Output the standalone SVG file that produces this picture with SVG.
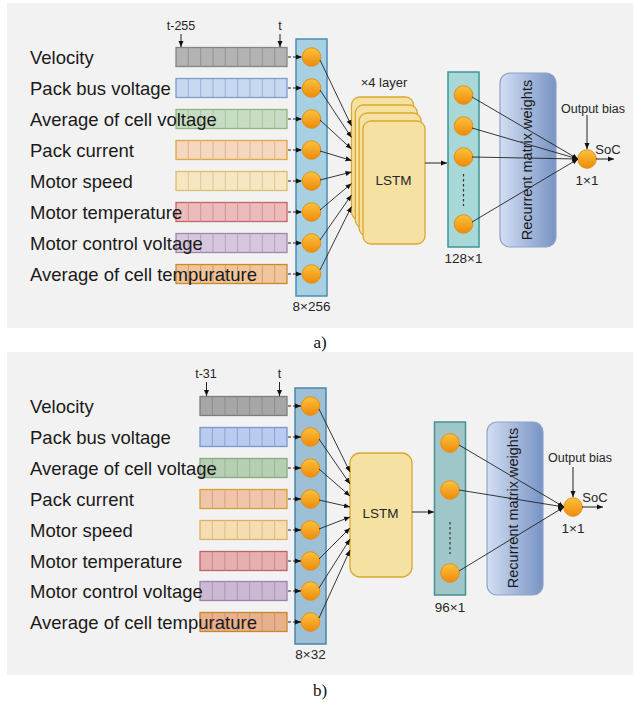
<svg xmlns="http://www.w3.org/2000/svg" width="634" height="705" viewBox="0 0 634 705">
<defs>
<style>
.lbl{font-family:"Liberation Sans",Arial,sans-serif;font-size:18.5px;fill:#1a1a1a}
.sm{font-family:"Liberation Sans",Arial,sans-serif;font-size:12.5px;fill:#262626}
.md{font-family:"Liberation Sans",Arial,sans-serif;font-size:13.5px;fill:#262626}
.cap{font-family:"Liberation Serif","Times New Roman",serif;font-size:17px;fill:#111}
.cell{stroke-width:1.3}
.div{stroke-width:0.9;fill:none}
.node{fill:url(#og);stroke:#e39215;stroke-width:1}
.ln{stroke:#222;stroke-width:0.9;fill:none;marker-end:url(#ah)}
.dl{stroke:#222;stroke-width:1;fill:none;stroke-dasharray:3 2;marker-end:url(#ah)}
.ar{stroke:#222;stroke-width:1;fill:none;marker-end:url(#ah)}
.lstm{fill:#f5e2a2;stroke:#d9a82e;stroke-width:1.3}
.rec{fill:url(#rg);stroke:#8ea3c9;stroke-width:1.2}
</style>
<linearGradient id="og" x1="0" y1="0" x2="0" y2="1">
<stop offset="0" stop-color="#fbc23e"/>
<stop offset="1" stop-color="#ef8a0a"/>
</linearGradient>
<linearGradient id="rg" x1="0" y1="0" x2="1" y2="0">
<stop offset="0" stop-color="#d3def3"/>
<stop offset="1" stop-color="#7894c4"/>
</linearGradient>
<marker id="ah" markerWidth="6" markerHeight="6" refX="6" refY="3" orient="auto" markerUnits="userSpaceOnUse">
<path d="M0,0.5 L6,3 L0,5.5 z" fill="#111"/>
</marker>
</defs>

<rect x="0" y="0" width="634" height="705" fill="#ffffff"/>
<rect x="7" y="3" width="626" height="325" fill="#f2f2f2"/>
<rect x="7" y="352" width="626" height="323" fill="#f2f2f2"/>

<!-- ================= PANEL A ================= -->
<g id="a-inputs">
<g id="a-in-velocity">
<rect class="cell" x="176" y="47.5" width="111" height="19" fill="#b3b3b3" stroke="#858585"/>
<path class="div" stroke="#8f8f8f" d="M188.3,47.5v19M200.7,47.5v19M213,47.5v19M225.3,47.5v19M237.7,47.5v19M250,47.5v19M262.3,47.5v19M274.7,47.5v19"/>
<text class="lbl" x="30" y="63.5">Velocity</text>
</g>
<g id="a-in-packbus">
<rect class="cell" x="176" y="78.5" width="111" height="19" fill="#c9d8f1" stroke="#7f9ccb"/>
<path class="div" stroke="#93acd6" d="M188.3,78.5v19M200.7,78.5v19M213,78.5v19M225.3,78.5v19M237.7,78.5v19M250,78.5v19M262.3,78.5v19M274.7,78.5v19"/>
<text class="lbl" x="30" y="94.5">Pack bus voltage</text>
</g>
<g id="a-in-avgcellv">
<rect class="cell" x="176" y="109.5" width="111" height="19" fill="#c7dcc3" stroke="#8bb680"/>
<path class="div" stroke="#9fc196" d="M188.3,109.5v19M200.7,109.5v19M213,109.5v19M225.3,109.5v19M237.7,109.5v19M250,109.5v19M262.3,109.5v19M274.7,109.5v19"/>
<text class="lbl" x="30" y="125.5">Average of cell voltage</text>
</g>
<g id="a-in-packcur">
<rect class="cell" x="176" y="140.5" width="111" height="19" fill="#f4d7be" stroke="#dba844"/>
<path class="div" stroke="#d9b08c" d="M188.3,140.5v19M200.7,140.5v19M213,140.5v19M225.3,140.5v19M237.7,140.5v19M250,140.5v19M262.3,140.5v19M274.7,140.5v19"/>
<text class="lbl" x="30" y="156.5">Pack current</text>
</g>
<g id="a-in-motorspeed">
<rect class="cell" x="176" y="171.5" width="111" height="19" fill="#f6e7c2" stroke="#dcbe6e"/>
<path class="div" stroke="#d8c48e" d="M188.3,171.5v19M200.7,171.5v19M213,171.5v19M225.3,171.5v19M237.7,171.5v19M250,171.5v19M262.3,171.5v19M274.7,171.5v19"/>
<text class="lbl" x="30" y="187.5">Motor speed</text>
</g>
<g id="a-in-motortemp">
<rect class="cell" x="176" y="202.5" width="111" height="19" fill="#ecbcbd" stroke="#c46466"/>
<path class="div" stroke="#cf8f90" d="M188.3,202.5v19M200.7,202.5v19M213,202.5v19M225.3,202.5v19M237.7,202.5v19M250,202.5v19M262.3,202.5v19M274.7,202.5v19"/>
<text class="lbl" x="30" y="218.5">Motor temperature</text>
</g>
<g id="a-in-motorctrl">
<rect class="cell" x="176" y="233.5" width="111" height="19" fill="#d6c7dd" stroke="#9d86ae"/>
<path class="div" stroke="#ae9cbc" d="M188.3,233.5v19M200.7,233.5v19M213,233.5v19M225.3,233.5v19M237.7,233.5v19M250,233.5v19M262.3,233.5v19M274.7,233.5v19"/>
<text class="lbl" x="30" y="249.5">Motor control voltage</text>
</g>
<g id="a-in-avgcellt">
<rect class="cell" x="176" y="264.5" width="111" height="19" fill="#f0c59b" stroke="#c9882c"/>
<path class="div" stroke="#cf9a68" d="M188.3,264.5v19M200.7,264.5v19M213,264.5v19M225.3,264.5v19M237.7,264.5v19M250,264.5v19M262.3,264.5v19M274.7,264.5v19"/>
<text class="lbl" x="30" y="280.5">Average of cell tempurature</text>
</g>
</g>

<g id="a-time">
<text class="sm" x="181" y="30" text-anchor="middle">t-255</text>
<text class="sm" x="280" y="30" text-anchor="middle">t</text>
</g>

<g id="a-inlayer">
<rect x="296" y="39" width="31" height="257" fill="#a8d0e3" stroke="#4b8db3" stroke-width="1.5"/>
<circle class="node" cx="311.5" cy="57" r="9.3"/>
<circle class="node" cx="311.5" cy="88" r="9.3"/>
<circle class="node" cx="311.5" cy="119" r="9.3"/>
<circle class="node" cx="311.5" cy="150" r="9.3"/>
<circle class="node" cx="311.5" cy="181" r="9.3"/>
<circle class="node" cx="311.5" cy="212" r="9.3"/>
<circle class="node" cx="311.5" cy="243" r="9.3"/>
<circle class="node" cx="311.5" cy="274" r="9.3"/>
<text class="md" x="311.5" y="311" text-anchor="middle">8×256</text>
</g>

<g id="a-lstm">
<rect class="lstm" x="351.5" y="97" width="62" height="123" rx="8"/>
<rect class="lstm" x="355.3" y="105" width="62" height="123" rx="8"/>
<rect class="lstm" x="359.1" y="113" width="62" height="123" rx="8"/>
<rect class="lstm" x="363" y="121" width="62" height="123" rx="8"/>
<text class="md" x="393.5" y="185" text-anchor="middle">LSTM</text>
<text class="md" x="384" y="87" text-anchor="middle" style="font-size:13px">×4 layer</text>
</g>

<g id="a-hidden">
<rect x="448" y="72" width="31" height="175" fill="#a8d8d8" stroke="#3c9696" stroke-width="1.5"/>
<circle class="node" cx="463.5" cy="95" r="9.3"/>
<circle class="node" cx="463.5" cy="126" r="9.3"/>
<circle class="node" cx="463.5" cy="157" r="9.3"/>
<circle class="node" cx="463.5" cy="224" r="9.3"/>
<path d="M463.5,174V206" stroke="#333" stroke-width="1.2" stroke-dasharray="2.5 2.5"/>
<text class="md" x="463.5" y="263" text-anchor="middle">128×1</text>
</g>

<g id="a-recurrent">
<rect class="rec" x="500" y="73" width="56" height="174" rx="10"/>
<text class="md" transform="translate(532,160) rotate(-90)" text-anchor="middle" style="font-size:14.5px;fill:#1a1a1a">Recurrent matrix weights</text>
</g>

<g id="a-output">
<circle class="node" cx="587" cy="159" r="9.3"/>
<text class="sm" x="593" y="113" text-anchor="middle">Output bias</text>
<text class="md" x="608" y="154" text-anchor="middle" style="font-size:13px">SoC</text>
<text class="md" x="587" y="185" text-anchor="middle">1×1</text>
</g>

<g id="a-connectors">
<path class="ar" d="M181,34V47"/>
<path class="ar" d="M280,34V47"/>
<path class="dl" d="M288,57H302"/>
<path class="dl" d="M288,88H302"/>
<path class="dl" d="M288,119H302"/>
<path class="dl" d="M288,150H302"/>
<path class="dl" d="M288,181H302"/>
<path class="dl" d="M288,212H302"/>
<path class="dl" d="M288,243H302"/>
<path class="dl" d="M288,274H302"/>
<path class="ln" d="M320,60L351.5,126"/>
<path class="ln" d="M320,90L351.5,137.5"/>
<path class="ln" d="M320,120L351.5,149"/>
<path class="ln" d="M320,151L351.5,160.5"/>
<path class="ln" d="M320,180L351.5,172"/>
<path class="ln" d="M320,210L351.5,183.5"/>
<path class="ln" d="M320,240L351.5,195"/>
<path class="ln" d="M320,270L351.5,206.5"/>
<path class="ar" d="M425,163H447"/>
<path class="ln" d="M472,97L578,159"/>
<path class="ln" d="M472,128L578,159"/>
<path class="ln" d="M472,157L578,159"/>
<path class="ln" d="M472,222L578,159"/>
<path class="ar" d="M587,115V149"/>
<path class="ar" d="M596,159H614"/>
</g>

<text class="cap" x="320" y="348" text-anchor="middle">a)</text>

<!-- ================= PANEL B ================= -->
<g id="b-inputs">
<g id="b-in-velocity">
<rect class="cell" x="200" y="396.5" width="87" height="19" fill="#a6a6a6" stroke="#7d7d7d"/>
<path class="div" stroke="#8a8a8a" d="M212.4,396.5v19M224.9,396.5v19M237.3,396.5v19M249.7,396.5v19M262.1,396.5v19M274.6,396.5v19"/>
<text class="lbl" x="30" y="412.5">Velocity</text>
</g>
<g id="b-in-packbus">
<rect class="cell" x="200" y="427.5" width="87" height="19" fill="#b9cbee" stroke="#7a96c8"/>
<path class="div" stroke="#889fcc" d="M212.4,427.5v19M224.9,427.5v19M237.3,427.5v19M249.7,427.5v19M262.1,427.5v19M274.6,427.5v19"/>
<text class="lbl" x="30" y="443.5">Pack bus voltage</text>
</g>
<g id="b-in-avgcellv">
<rect class="cell" x="200" y="458.5" width="87" height="19" fill="#b6cfb4" stroke="#83ad7b"/>
<path class="div" stroke="#95b68e" d="M212.4,458.5v19M224.9,458.5v19M237.3,458.5v19M249.7,458.5v19M262.1,458.5v19M274.6,458.5v19"/>
<text class="lbl" x="30" y="474.5">Average of cell voltage</text>
</g>
<g id="b-in-packcur">
<rect class="cell" x="200" y="489.5" width="87" height="19" fill="#f1c5a9" stroke="#d3a232"/>
<path class="div" stroke="#d49c7e" d="M212.4,489.5v19M224.9,489.5v19M237.3,489.5v19M249.7,489.5v19M262.1,489.5v19M274.6,489.5v19"/>
<text class="lbl" x="30" y="505.5">Pack current</text>
</g>
<g id="b-in-motorspeed">
<rect class="cell" x="200" y="520.5" width="87" height="19" fill="#f5ddb1" stroke="#d9b26a"/>
<path class="div" stroke="#d6b887" d="M212.4,520.5v19M224.9,520.5v19M237.3,520.5v19M249.7,520.5v19M262.1,520.5v19M274.6,520.5v19"/>
<text class="lbl" x="30" y="536.5">Motor speed</text>
</g>
<g id="b-in-motortemp">
<rect class="cell" x="200" y="551.5" width="87" height="19" fill="#e6b0b1" stroke="#bf6466"/>
<path class="div" stroke="#c88688" d="M212.4,551.5v19M224.9,551.5v19M237.3,551.5v19M249.7,551.5v19M262.1,551.5v19M274.6,551.5v19"/>
<text class="lbl" x="30" y="567.5">Motor temperature</text>
</g>
<g id="b-in-motorctrl">
<rect class="cell" x="200" y="581.5" width="87" height="19" fill="#cbb9d3" stroke="#9a84a9"/>
<path class="div" stroke="#a692b4" d="M212.4,581.5v19M224.9,581.5v19M237.3,581.5v19M249.7,581.5v19M262.1,581.5v19M274.6,581.5v19"/>
<text class="lbl" x="30" y="597.5">Motor control voltage</text>
</g>
<g id="b-in-avgcellt">
<rect class="cell" x="200" y="612.5" width="87" height="19" fill="#e8b08d" stroke="#c5882c"/>
<path class="div" stroke="#c9906a" d="M212.4,612.5v19M224.9,612.5v19M237.3,612.5v19M249.7,612.5v19M262.1,612.5v19M274.6,612.5v19"/>
<text class="lbl" x="30" y="628.5">Average of cell tempurature</text>
</g>
</g>

<g id="b-time">
<text class="sm" x="206" y="378" text-anchor="middle">t-31</text>
<text class="sm" x="279.5" y="378" text-anchor="middle">t</text>
</g>

<g id="b-inlayer">
<rect x="295" y="388" width="31" height="256" fill="#9dc0d6" stroke="#4986a8" stroke-width="1.5"/>
<circle class="node" cx="310.5" cy="406" r="9.3"/>
<circle class="node" cx="310.5" cy="437" r="9.3"/>
<circle class="node" cx="310.5" cy="468" r="9.3"/>
<circle class="node" cx="310.5" cy="499" r="9.3"/>
<circle class="node" cx="310.5" cy="530" r="9.3"/>
<circle class="node" cx="310.5" cy="561" r="9.3"/>
<circle class="node" cx="310.5" cy="591" r="9.3"/>
<circle class="node" cx="310.5" cy="622" r="9.3"/>
<text class="md" x="310.5" y="659" text-anchor="middle">8×32</text>
</g>

<g id="b-lstm">
<rect class="lstm" x="350" y="453" width="62" height="124" rx="10"/>
<text class="md" x="380.5" y="518" text-anchor="middle">LSTM</text>
</g>

<g id="b-hidden">
<rect x="434.5" y="422" width="31" height="173" fill="#9fc7c9" stroke="#4a8e90" stroke-width="1.5"/>
<circle class="node" cx="450" cy="443" r="9.3"/>
<circle class="node" cx="450" cy="490" r="9.3"/>
<circle class="node" cx="450" cy="573" r="9.3"/>
<path d="M450,522V554" stroke="#333" stroke-width="1.2" stroke-dasharray="2.5 2.5"/>
<text class="md" x="450" y="612" text-anchor="middle">96×1</text>
</g>

<g id="b-recurrent">
<rect class="rec" x="487" y="422" width="56" height="173" rx="10"/>
<text class="md" transform="translate(518,508) rotate(-90)" text-anchor="middle" style="font-size:14.5px;fill:#1a1a1a">Recurrent matrix weights</text>
</g>

<g id="b-output">
<circle class="node" cx="573" cy="507" r="9.3"/>
<text class="sm" x="580" y="462" text-anchor="middle">Output bias</text>
<text class="md" x="595" y="502" text-anchor="middle" style="font-size:13px">SoC</text>
<text class="md" x="573" y="533" text-anchor="middle">1×1</text>
</g>

<g id="b-connectors">
<path class="ar" d="M206.5,382V396"/>
<path class="ar" d="M279.5,382V396"/>
<path class="dl" d="M288,406H301"/>
<path class="dl" d="M288,437H301"/>
<path class="dl" d="M288,468H301"/>
<path class="dl" d="M288,499H301"/>
<path class="dl" d="M288,530H301"/>
<path class="dl" d="M288,561H301"/>
<path class="dl" d="M288,591H301"/>
<path class="dl" d="M288,622H301"/>
<path class="ln" d="M319,409L350,472"/>
<path class="ln" d="M319,439L350,484"/>
<path class="ln" d="M319,469L350,496"/>
<path class="ln" d="M319,500L350,507"/>
<path class="ln" d="M319,529L350,517"/>
<path class="ln" d="M319,559L350,528"/>
<path class="ln" d="M319,588L350,539"/>
<path class="ln" d="M319,618L350,550"/>
<path class="ar" d="M412,512H434"/>
<path class="ln" d="M459,445L564,507"/>
<path class="ln" d="M459,490L564,507"/>
<path class="ln" d="M459,571L564,507"/>
<path class="ar" d="M573,467V497"/>
<path class="ar" d="M582,507H603"/>
</g>

<text class="cap" x="320" y="696" text-anchor="middle">b)</text>
</svg>
